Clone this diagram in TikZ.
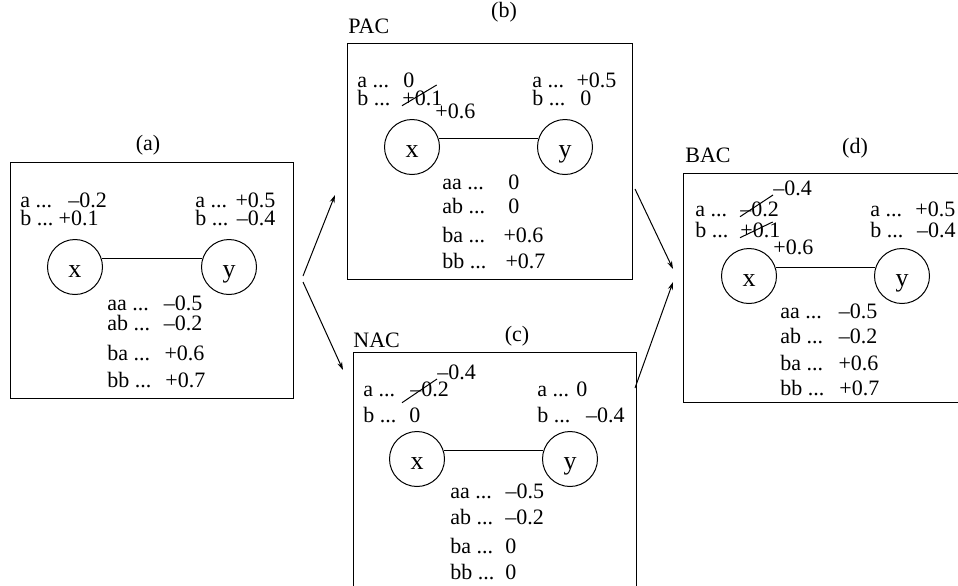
\documentclass[tikz,border=0pt]{standalone}
\usepackage{fontspec}
\setmainfont{Liberation Serif}
\usetikzlibrary{arrows.meta}

\begin{document}
\begin{tikzpicture}[x=0.5pt, y=-0.5pt, font=\fontsize{11}{13}\selectfont]
    \tikzstyle{panel} = [rectangle, draw=black, line width=0.5pt, anchor=north west, inner sep=0pt]
    \tikzstyle{var} = [circle, draw=black, line width=0.5pt, minimum size=27.5pt, inner sep=0pt, font=\fontsize{13}{15}\selectfont, text height=10.5pt, text depth=0pt]
    \tikzstyle{txt} = [anchor=base west, inner sep=0pt]
    \tikzstyle{title} = [anchor=base, inner sep=0pt]
    \tikzstyle{edge} = [line width=0.5pt]
    \tikzstyle{arrow} = [line width=0.5pt, -{Stealth[length=4pt, width=2.5pt]}]

    \path [use as bounding box, clip] (0,0) rectangle (958,585);

    % (a)
    \node (boxa) [panel, minimum width=141.5pt, minimum height=118pt] at (10,162) {};
    \node (tita) [title] at (148,150) {(a)};
    \node (axa) [txt] at (20,207) {a ...\hspace{8.1pt}–0.2};
    \node (axb) [txt] at (20,225) {b ...\hspace{2.6pt}+0.1};
    \node (aya) [txt] at (195,207) {a ...\hspace{4.2pt}+0.5};
    \node (ayb) [txt] at (195,225) {b ...\hspace{4.3pt}–0.4};
    \node (ax) [var] at (75,267) {x};
    \node (ay) [var] at (229,267) {y};
    \node (aaa) [txt] at (107,310) {aa ...\hspace{7.5pt}–0.5};
    \node (aab) [txt] at (107,330) {ab ...\hspace{6.9pt}–0.2};
    \node (aba) [txt] at (107,360) {ba ...\hspace{7.2pt}+0.6};
    \node (abb) [txt] at (107,387) {bb ...\hspace{7pt}+0.7};
    \draw [edge] (ax.17) -- (ay.163);

    % (b) PAC
    \node (boxb) [panel, minimum width=142.5pt, minimum height=118pt] at (347,43) {};
    \node (pac) [txt] at (348,33) {PAC};
    \node (titb) [title] at (504,17) {(b)};
    \node (bxa) [txt] at (357,87) {a ...\hspace{7.1pt}0};
    \node (bxb) [txt] at (357,105) {b ...};
    \node (bxbv) [txt] at (402,105) {+0.1};
    \node (bxbn) [txt] at (435,118) {+0.6};
    \node (bya) [txt] at (532,87) {a ...\hspace{6.2pt}+0.5};
    \node (byb) [txt] at (532,105) {b ...\hspace{7.5pt}0};
    \node (bx) [var] at (412,147) {x};
    \node (by) [var] at (565,147) {y};
    \node (baa) [txt] at (442,189) {aa ...\hspace{12.2pt}0};
    \node (bab) [txt] at (442,213) {ab ...\hspace{11.6pt}0};
    \node (bba) [txt] at (442,242) {ba ...\hspace{9.2pt}+0.6};
    \node (bbb) [txt] at (442,268) {bb ...\hspace{9.6pt}+0.7};
    \draw [edge] (bx.17) -- (by.163);
    \draw [edge] (bxbv.south west) -- ([xshift=-3pt, yshift=2.5pt]bxbv.north east);

    % (c) NAC
    \node (boxc) [panel, minimum width=141.5pt, minimum height=125pt] at (353,352) {};
    \node (nac) [txt] at (353,347) {NAC};
    \node (titc) [title] at (517,341) {(c)};
    \node (cxan) [txt] at (437,379) {–0.4};
    \node (cxa) [txt] at (363,396) {a ...};
    \node (cxav) [txt] at (410,396) {–0.2};
    \node (cxb) [txt] at (363,422) {b ...\hspace{6.5pt}0};
    \node (cya) [txt] at (537,396) {a ...\hspace{3.6pt}0};
    \node (cyb) [txt] at (537,422) {b ...\hspace{7.8pt}–0.4};
    \node (cx) [var] at (417,459) {x};
    \node (cy) [var] at (570,459) {y};
    \node (caa) [txt] at (450,498) {aa ...\hspace{6.8pt}–0.5};
    \node (cab) [txt] at (450,524) {ab ...\hspace{6.1pt}–0.2};
    \node (cba) [txt] at (450,553) {ba ...\hspace{6.1pt}0};
    \node (cbb) [txt] at (450,579) {bb ...\hspace{5.5pt}0};
    \draw [edge] (cx.17) -- (cy.163);
    \draw [edge] ([xshift=-4pt, yshift=-3pt]cxav.south west) -- (cxan.base west);

    % (d) BAC
    \node (boxd) [panel, minimum width=146pt, minimum height=114.5pt] at (683,173) {};
    \node (bac) [txt] at (685,162) {BAC};
    \node (titd) [title] at (855,153) {(d)};
    \node (dxan) [txt] at (773,195) {–0.4};
    \node (dxa) [txt] at (695,216) {a ...};
    \node (dxav) [txt] at (740,216) {–0.2};
    \node (dxb) [txt] at (695,237) {b ...};
    \node (dxbv) [txt] at (740,237) {+0.1};
    \node (dxbn) [txt] at (773,254) {+0.6};
    \node (dya) [txt] at (870,216) {a ...\hspace{6.6pt}+0.5};
    \node (dyb) [txt] at (870,237) {b ...\hspace{6.8pt}–0.4};
    \node (dx) [var] at (749,276) {x};
    \node (dy) [var] at (902,276) {y};
    \node (daa) [txt] at (780,318) {aa ...\hspace{8.5pt}–0.5};
    \node (dab) [txt] at (780,343) {ab ...\hspace{7.9pt}–0.2};
    \node (dba) [txt] at (780,370) {ba ...\hspace{7.7pt}+0.6};
    \node (dbb) [txt] at (780,395) {bb ...\hspace{7.5pt}+0.7};
    \draw [edge] (dx.17) -- (dy.163);
    \draw [edge] (dxav.south west) -- (dxan.base west);
    \draw [edge] (dxbv.south west) -- ([xshift=-4pt]dxbv.north east);

    % arrows between the panels
    \coordinate (aup) at (303,276);
    \coordinate (adown) at (303,282);
    \coordinate (bin) at (335,195);
    \coordinate (cin) at (343,370);
    \coordinate (bout) at (635,189);
    \coordinate (cout) at (635,388);
    \coordinate (dinb) at (673,269);
    \coordinate (dinc) at (673,282);
    \draw [arrow] (aup) -- (bin);
    \draw [arrow] (adown) -- (cin);
    \draw [arrow] (bout) -- (dinb);
    \draw [arrow] (cout) -- (dinc);
\end{tikzpicture}
\end{document}
